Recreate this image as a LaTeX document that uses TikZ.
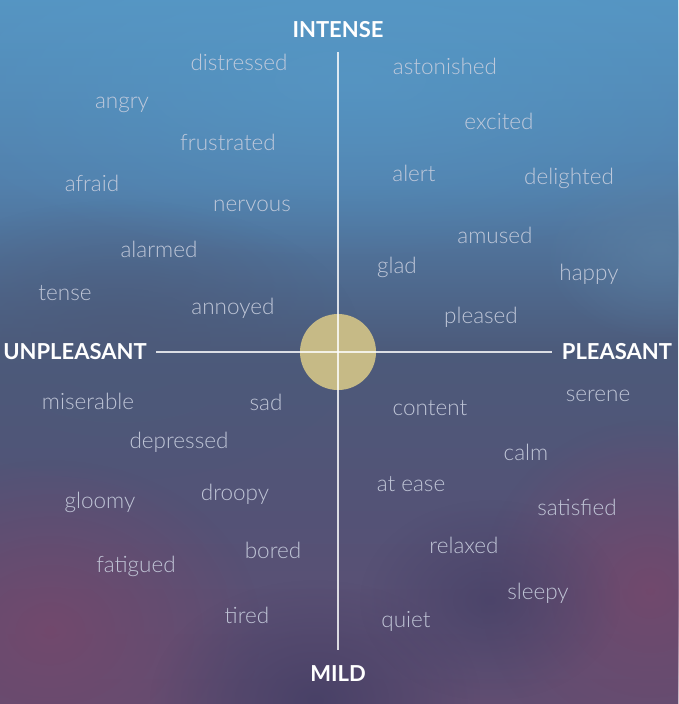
\documentclass[tikz,border=0pt]{standalone}
\usepackage{fontspec}
\setmainfont{Lato}
\newfontfamily\wordfont{Lato Light}
\usetikzlibrary{fadings, backgrounds}
\definecolor{skytop}{RGB}{86,154,200}
\definecolor{skymid}{RGB}{82,128,172}
\definecolor{slate}{RGB}{76,90,122}
\definecolor{dusk}{RGB}{84,82,118}
\definecolor{plum}{RGB}{116,72,108}
\definecolor{navy}{RGB}{70,64,102}
\definecolor{wordgray}{RGB}{200,206,222}
\definecolor{sun}{RGB}{198,186,134}
\pgfdeclareverticalshading{skyfall}{100bp}{
  color(0bp)=(navy); color(10bp)=(plum!80!navy); color(22bp)=(plum!50!dusk);
  color(38bp)=(dusk); color(50bp)=(slate); color(62bp)=(skymid);
  color(78bp)=(skytop); color(100bp)=(skytop)}
\tikzfading[name=softblob, inner color=transparent!0, outer color=transparent!100]

\begin{document}
\begin{tikzpicture}[
    x=1pt, y=-1pt,
    word/.style={font=\wordfont\fontsize{22.5}{24}\selectfont, text=wordgray, text opacity=0.92, inner sep=0pt},
    axislabel/.style={font=\bfseries\fontsize{22}{24}\selectfont, text=white, inner sep=0pt},
    axisline/.style={draw=white, opacity=0.8, line width=1.6pt},
    blob/.style={path fading=softblob},
]

% ===== Background =====
\useasboundingbox (0,0) rectangle (678,704);
\shade[shading=skyfall] (0,0) rectangle (678,704);
\fill[plum, blob, opacity=0.9] (-160,460) rectangle (260,800);
\fill[plum, blob, opacity=0.9] (480,420) rectangle (820,760);
\fill[navy, blob, opacity=0.9] (150,580) rectangle (480,820);
\fill[navy, blob, opacity=0.7] (360,500) rectangle (620,700);
\fill[slate, blob, opacity=0.8] (-120,200) rectangle (360,480);
\fill[skymid!80!gray, blob, opacity=0.7] (540,160) rectangle (780,340);
\fill[skytop, blob, opacity=0.6] (-100,-100) rectangle (800,260);

% ===== Centre and axes =====
\fill[sun] (338,352) circle (38);
\coordinate (top) at (338,52);
\coordinate (bottom) at (338,650);
\coordinate (left) at (156,352);
\coordinate (right) at (552,352);
\draw[axisline] (top) -- (bottom);
\draw[axisline] (left) -- (right);

\node[axislabel] (intense) at (338,30) {INTENSE};
\node[axislabel] (mild) at (338,674) {MILD};
\node[axislabel] (unpleasant) at (75,352) {UNPLEASANT};
\node[axislabel] (pleasant) at (617,352) {PLEASANT};

% ===== Feelings =====
\foreach \name/\x/\y in {
  distressed/239/62, astonished/445/66, angry/122/105, excited/499/121,
  frustrated/228/142, afraid/92/183, alert/414/173, delighted/569/178,
  nervous/252/206, amused/495/235, alarmed/159/249, glad/397/267,
  happy/589/274, tense/65/293, annoyed/233/308, pleased/481/317,
  miserable/88/401, sad/266/402, content/430/408, serene/598/396,
  depressed/179/442, calm/526/452, gloomy/100/502, droopy/235/494,
  satisfied/577/507, bored/273/550, relaxed/464/545, fatigued/136/566,
  sleepy/538/593, tired/247/615, quiet/406/621%
}{
  \node[word] (\name) at (\x,\y) {\name};
}
\node[word] (atease) at (411,484) {at ease};

\end{tikzpicture}
\end{document}
